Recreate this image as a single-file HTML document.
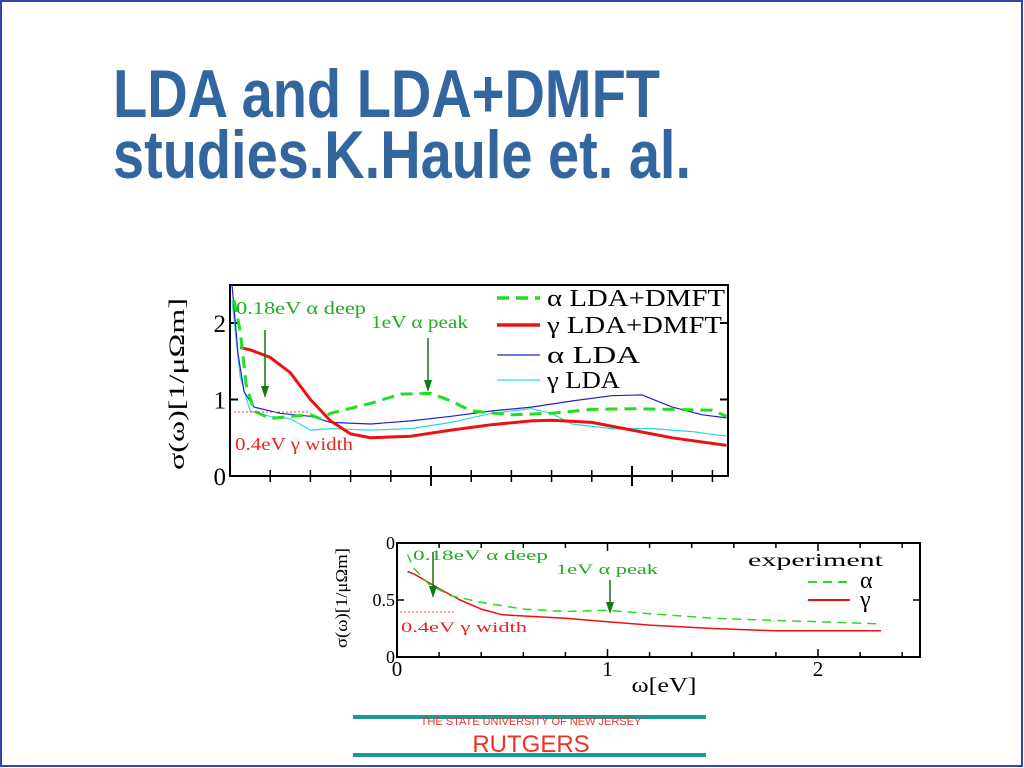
<!DOCTYPE html>
<html><head><meta charset="utf-8">
<style>
html,body{margin:0;padding:0;background:#fff;}
svg{display:block;font-family:"Liberation Serif",serif;}
</style></head>
<body>
<svg id="slide" width="1024" height="768" viewBox="0 0 1024 768" xmlns="http://www.w3.org/2000/svg">
<rect x="1" y="1" width="1021" height="765" fill="#fff" stroke="#3344aa" stroke-width="2"/>
<g fill="#33669f" font-family="'Liberation Sans Narrow','Liberation Sans',sans-serif" font-weight="bold" font-size="68">
<text x="113" y="117" textLength="547" lengthAdjust="spacingAndGlyphs">LDA and LDA+DMFT</text>
<text x="113" y="178" textLength="578" lengthAdjust="spacingAndGlyphs">studies.K.Haule et. al.</text>
</g>
<g id="topchart"></g>
<g id="botchart"></g>
<g>
<line x1="353" y1="717" x2="706" y2="717" stroke="#1a9999" stroke-width="4"/>
<line x1="353" y1="755" x2="706" y2="755" stroke="#1a9999" stroke-width="4"/>
<text x="531" y="725" text-anchor="middle" font-family="'Liberation Sans Narrow','Liberation Sans',sans-serif" font-size="11" fill="#ee3322">THE STATE UNIVERSITY OF NEW JERSEY</text>
<text x="531" y="752" text-anchor="middle" font-family="'Liberation Sans Narrow','Liberation Sans',sans-serif" font-size="24" fill="#ee3322">RUTGERS</text>
</g>
</svg>
<script>
// ---- top chart data ----
const topAlphaDmftX=[0.02,0.05,0.08,0.12,0.2,0.3,0.4,0.45,0.5,0.7,0.85,1.0,1.1,1.2,1.4,1.6,1.8,2.0,2.2,2.4,2.47];
const topAlphaDmftY=[2.3,1.9,1.2,0.85,0.75,0.78,0.8,0.75,0.82,0.95,1.07,1.08,0.98,0.85,0.8,0.82,0.87,0.88,0.87,0.86,0.78];
const topGammaDmftX=[0.05,0.1,0.2,0.3,0.4,0.5,0.6,0.7,0.9,1.1,1.3,1.5,1.6,1.8,2.0,2.2,2.47];
const topGammaDmftY=[1.68,1.65,1.55,1.35,1.0,0.72,0.55,0.5,0.52,0.6,0.67,0.72,0.73,0.7,0.6,0.5,0.4];
const topAlphaLdaX=[0.01,0.04,0.07,0.12,0.25,0.4,0.5,0.7,0.9,1.1,1.3,1.5,1.7,1.9,2.05,2.2,2.35,2.47];
const topAlphaLdaY=[2.5,1.6,1.1,0.9,0.82,0.78,0.7,0.68,0.72,0.78,0.85,0.9,0.98,1.05,1.06,0.9,0.8,0.76];
const topGammaLdaX=[0.01,0.05,0.1,0.2,0.3,0.4,0.5,0.7,0.9,1.1,1.3,1.5,1.6,1.7,1.9,2.1,2.3,2.47];
const topGammaLdaY=[2.3,1.3,0.85,0.78,0.75,0.6,0.62,0.6,0.62,0.7,0.82,0.88,0.82,0.68,0.62,0.62,0.58,0.52];
const topYTicks=["0","1","2"];
// ---- bottom chart data ----
const botAlphaX=[0.05,0.08,0.15,0.25,0.4,0.6,0.8,1.0,1.2,1.5,1.8,2.0,2.3];
const botAlphaY=[0.9,0.78,0.64,0.54,0.48,0.42,0.4,0.41,0.38,0.34,0.32,0.31,0.29];
const botGammaX=[0.05,0.08,0.2,0.3,0.4,0.5,0.8,1.0,1.2,1.5,1.8,2.3];
const botGammaY=[0.75,0.73,0.6,0.5,0.42,0.37,0.34,0.31,0.28,0.25,0.23,0.23];
const botXTicks=["0","1","2"];
const botYTicks=["0","0.5","0"];

const NS="http://www.w3.org/2000/svg";
function mk(parent,tag,attrs,text){const e=document.createElementNS(NS,tag);for(const k in attrs)e.setAttribute(k,attrs[k]);if(text!==undefined)e.textContent=text;parent.appendChild(e);return e;}

const tx=v=>230+v*201, ty=v=>476-v*76.5;
const topG=document.getElementById('topchart');
function series(g,xs,ys,fx,fy,stroke,w,dash,name){
  const p=xs.map((x,i)=>fx(x).toFixed(1)+','+fy(ys[i]).toFixed(1)).join(' ');
  const e=mk(g,'polyline',{points:p,fill:'none',stroke:stroke,'stroke-width':w,'stroke-dasharray':dash||'none','stroke-linejoin':'round'});
  
  
}
function arrow(g,x,y1,y2,color,name){
  const a=mk(g,'g',{});
  
  
  mk(a,'line',{x1:x,y1:y1,x2:x,y2:y2-8,stroke:color,'stroke-width':1.5});
  mk(a,'polygon',{points:`${x-4},${y2-12} ${x+4},${y2-12} ${x},${y2}`,fill:color});
}
{
  const frame=mk(topG,'rect',{x:230,y:285,width:498,height:191,fill:'none',stroke:'#000','stroke-width':2});
  
  
  for(let i=1;i<13;i++){const x=tx(i*0.2);const big=(i%5===0);
    mk(topG,'line',{x1:x,y1:476,x2:x,y2:476-(big?10:6),stroke:'#000','stroke-width':big?2:1.5});
    mk(topG,'line',{x1:x,y1:476,x2:x,y2:476+(big?10:6),stroke:'#000','stroke-width':big?2:1.5});}
  topYTicks.forEach((t,i)=>{const y=ty(i);
    mk(topG,'line',{x1:230,y1:y,x2:238,y2:y,stroke:'#000','stroke-width':2});
    mk(topG,'line',{x1:720,y1:y,x2:728,y2:y,stroke:'#000','stroke-width':2});
    const l=mk(topG,'text',{x:226,y:y+9,'text-anchor':'end','font-size':25},t);
    
    
  });
  const yt=mk(topG,'text',{transform:'translate(184,384) rotate(-90)','text-anchor':'middle','font-size':22,textLength:172,lengthAdjust:'spacingAndGlyphs'},'σ(ω)[1/μΩm]');
  
  
  series(topG,topGammaLdaX,topGammaLdaY,tx,ty,'#22dddd',1.2,null,'gamma-lda-line');
  series(topG,topAlphaLdaX,topAlphaLdaY,tx,ty,'#2222cc',1.2,null,'alpha-lda-line');
  series(topG,topGammaDmftX,topGammaDmftY,tx,ty,'#ee1111',3,null,'gamma-lda-dmft-line');
  series(topG,topAlphaDmftX,topAlphaDmftY,tx,ty,'#22dd22',3,'12,7','alpha-lda-dmft-line');
  const a1=mk(topG,'text',{x:236,y:314,'font-size':18,fill:'#22aa22',textLength:130,lengthAdjust:'spacingAndGlyphs'},'0.18eV α deep');
  
  const a2=mk(topG,'text',{x:371,y:328,'font-size':18,fill:'#22aa22',textLength:97,lengthAdjust:'spacingAndGlyphs'},'1eV α peak');
  
  const a3=mk(topG,'text',{x:235,y:450,'font-size':18,fill:'#ee2222',textLength:118,lengthAdjust:'spacingAndGlyphs'},'0.4eV γ width');
  
  arrow(topG,265,330,398,'#117711','arrow-alpha-deep');
  arrow(topG,428,338,392,'#117711','arrow-alpha-peak');
  mk(topG,'line',{x1:234,y1:412,x2:310,y2:412,stroke:'#ee4444','stroke-width':1,'stroke-dasharray':'2,2'});
  const lg=mk(topG,'g',{'font-size':24});
  
  const leg=[['α LDA+DMFT','#22dd22',3.5,'12,7',178,298],['γ LDA+DMFT','#ee1111',3.5,null,175,325],['α LDA','#2222cc',1.2,null,93,355],['γ LDA','#22dddd',1.2,null,73,380]];
  leg.forEach(L=>{const y=L[5];
    mk(lg,'line',{x1:497,y1:y,x2:540,y2:y,stroke:L[1],'stroke-width':L[2],'stroke-dasharray':L[3]||'none'});
    const t=mk(lg,'text',{x:547,y:y+8,textLength:L[4],lengthAdjust:'spacingAndGlyphs'},L[0]);
    });
}
const bx=v=>397+v*210.5, by=v=>657-v*114;
const botG=document.getElementById('botchart');
{
  const frame=mk(botG,'rect',{x:397,y:543,width:523,height:114,fill:'none',stroke:'#000','stroke-width':2});
  
  
  for(let i=1;i<13;i++){const x=bx(i*0.2);const big=(i%5===0);
    mk(botG,'line',{x1:x,y1:657,x2:x,y2:657-(big?8:5),stroke:'#000','stroke-width':1.5});
    mk(botG,'line',{x1:x,y1:543,x2:x,y2:543+(big?8:5),stroke:'#000','stroke-width':1.5});}
  botXTicks.forEach((t,i)=>{const l=mk(botG,'text',{x:bx(i),y:676,'text-anchor':'middle','font-size':21},t);
    });
  botYTicks.forEach((t,i)=>{const y=by(i*0.5);
    mk(botG,'line',{x1:397,y1:y,x2:404,y2:y,stroke:'#000','stroke-width':1.5});
    mk(botG,'line',{x1:913,y1:y,x2:920,y2:y,stroke:'#000','stroke-width':1.5});
    const l=mk(botG,'text',{x:395,y:y+6,'text-anchor':'end','font-size':18},t);
    });
  const xt=mk(botG,'text',{x:664,y:692,'text-anchor':'middle','font-size':21,textLength:65,lengthAdjust:'spacingAndGlyphs'},'ω[eV]');
  
  const yt=mk(botG,'text',{transform:'translate(347,598) rotate(-90)','text-anchor':'middle','font-size':17,textLength:100,lengthAdjust:'spacingAndGlyphs'},'σ(ω)[1/μΩm]');
  
  series(botG,botGammaX,botGammaY,bx,by,'#ee1111',1.5,null,'experiment-gamma-line');
  series(botG,botAlphaX,botAlphaY,bx,by,'#22dd22',1.5,'9,6','experiment-alpha-line');
  const a1=mk(botG,'text',{x:413,y:560,'font-size':15,fill:'#22aa22',textLength:135,lengthAdjust:'spacingAndGlyphs'},'0.18eV α deep');
  
  const a2=mk(botG,'text',{x:556,y:574,'font-size':15,fill:'#22aa22',textLength:102,lengthAdjust:'spacingAndGlyphs'},'1eV α peak');
  
  const a3=mk(botG,'text',{x:401,y:632,'font-size':15,fill:'#ee2222',textLength:126,lengthAdjust:'spacingAndGlyphs'},'0.4eV γ width');
  
  arrow(botG,433,552,598,'#117711','bottom-arrow-alpha-deep');
  arrow(botG,610,580,614,'#117711','bottom-arrow-alpha-peak');
  mk(botG,'line',{x1:400,y1:612,x2:455,y2:612,stroke:'#ee4444','stroke-width':1,'stroke-dasharray':'2,2'});
  const lg=mk(botG,'g',{'font-size':18});
  
  const t0=mk(lg,'text',{x:748,y:566,textLength:135,lengthAdjust:'spacingAndGlyphs'},'experiment');
  
  mk(lg,'line',{x1:808,y1:582,x2:850,y2:582,stroke:'#22dd22','stroke-width':2,'stroke-dasharray':'9,6'});
  const t1=mk(lg,'text',{x:860,y:588,'font-size':24},'α');
  
  mk(lg,'line',{x1:808,y1:600,x2:850,y2:600,stroke:'#ee1111','stroke-width':2});
  const t2=mk(lg,'text',{x:860,y:607,'font-size':24},'γ');
  
}
</script>
</body></html>
